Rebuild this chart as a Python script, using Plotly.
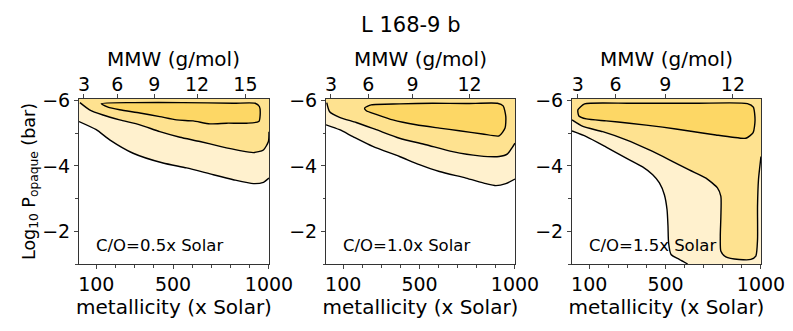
import plotly.graph_objects as go

# axis limits
metal_range = [10, 1000]
logp_range = [-1.0, -6.05]

# colours of the three filled levels (outer -> inner)
fill_colors = ['#FFF1CE', '#FEE290', '#FDD765']

# C/O = 0.5x Solar : contour boundaries (metallicity, log10 P)
co05_outer_metal = [10, 100, 170, 292, 448, 571, 710, 814, 919, 971, 1000]
co05_outer_logp = [-5.36, -5.11, -4.80, -4.39, -4.09, -3.94, -3.73, -3.58, -3.46, -3.50, -3.63]
co05_mid_metal = [15, 65, 135, 222, 327, 431, 536, 640, 745, 849, 919, 971, 997, 1000]
co05_mid_logp = [-5.94, -5.72, -5.56, -5.41, -5.26, -5.05, -4.88, -4.75, -4.60, -4.47, -4.41, -4.49, -4.75, -5.05]
co05_in_metal = [126, 292, 553, 814, 928, 950, 954, 947, 884, 780, 692, 605, 518, 431, 327, 222, 161, 126]
co05_in_logp = [-5.91, -5.94, -5.94, -5.92, -5.92, -5.82, -5.56, -5.36, -5.31, -5.31, -5.29, -5.38, -5.41, -5.51, -5.62, -5.72, -5.80, -5.91]

# C/O = 1.0x Solar
co10_outer_metal = [10, 81, 151, 255, 395, 499, 604, 743, 848, 900, 952, 1000]
co10_outer_logp = [-5.26, -5.11, -4.90, -4.60, -4.29, -4.04, -3.83, -3.63, -3.46, -3.40, -3.46, -3.60]
co10_mid_metal = [14, 29, 81, 168, 273, 395, 534, 673, 813, 917, 961, 987, 1000]
co10_mid_logp = [-5.94, -5.66, -5.49, -5.33, -5.11, -4.85, -4.65, -4.44, -4.31, -4.29, -4.37, -4.58, -4.70]
co10_in_metal = [212, 247, 395, 569, 743, 908, 938, 952, 948, 917, 830, 708, 604, 482, 360, 273, 221, 212]
co10_in_logp = [-5.77, -5.87, -5.90, -5.92, -5.91, -5.92, -5.84, -5.51, -5.16, -4.92, -4.98, -5.08, -5.16, -5.26, -5.41, -5.58, -5.69, -5.77]

# C/O = 1.5x Solar
co15_outer_metal = [10, 85, 189, 294, 380, 433, 468, 494, 508, 513, 516, 529, 572, 616]
co15_outer_logp = [-5.07, -4.90, -4.58, -4.24, -3.97, -3.73, -3.48, -3.12, -2.66, -2.15, -1.65, -1.29, -1.14, -1.0]
co15_mid_metal = [10, 67, 171, 294, 415, 520, 624, 712, 772, 790, 790, 787, 790, 816, 886, 947, 973, 982, 982, 987, 994, 1000]
co15_mid_logp = [-5.41, -5.21, -5.05, -4.80, -4.49, -4.19, -3.88, -3.63, -3.33, -3.07, -2.46, -1.85, -1.39, -1.22, -1.14, -1.14, -1.24, -1.75, -2.76, -3.58, -3.98, -4.29]
co15_in_metal = [41, 76, 311, 659, 929, 960, 969, 959, 921, 851, 764, 624, 485, 311, 189, 85, 46, 41]
co15_in_logp = [-5.72, -5.90, -5.92, -5.92, -5.91, -5.80, -5.41, -5.02, -4.85, -4.88, -4.95, -5.07, -5.19, -5.31, -5.38, -5.44, -5.53, -5.72]

# MMW top-axis ticks, placed at the metallicity where each MMW is reached
mmw_labels_05 = [3, 6, 9, 12, 15]
mmw_metal_05 = [36, 210, 403, 625, 877]
mmw_labels_10 = [3, 6, 9, 12]
mmw_metal_10 = [36, 231, 463, 762]
mmw_labels_15 = [3, 6, 9, 12]
mmw_metal_15 = [40, 238, 499, 853]

panels = [
    ('C/O=0.5x Solar', co05_outer_metal, co05_outer_logp, co05_mid_metal, co05_mid_logp,
     co05_in_metal, co05_in_logp, mmw_labels_05, mmw_metal_05),
    ('C/O=1.0x Solar', co10_outer_metal, co10_outer_logp, co10_mid_metal, co10_mid_logp,
     co10_in_metal, co10_in_logp, mmw_labels_10, mmw_metal_10),
    ('C/O=1.5x Solar', co15_outer_metal, co15_outer_logp, co15_mid_metal, co15_mid_logp,
     co15_in_metal, co15_in_logp, mmw_labels_15, mmw_metal_15),
]

x_domains = [[0.0996, 0.3392], [0.4111, 0.6494], [0.7213, 0.9596]]
y_domain = [0.2024, 0.7009]

FONT = 'DejaVu Sans'
TICK = dict(size=19, color='black', family=FONT)
LABEL = dict(size=20, color='black', family=FONT)
x_lo, x_hi = metal_range
y_bot, y_top = logp_range
pad_x = 200
pad_y = 0.5


def open_region(xs, ys):
    # region above (lower pressure than) a contour that runs from the left edge
    # to the right or bottom edge of the axes
    px = list(xs)
    py = list(ys)
    if py[-1] >= y_bot - 1e-6:
        px += [px[-1], x_hi + pad_x]
        py += [y_bot + pad_y, y_bot + pad_y]
    else:
        px += [x_hi + pad_x]
        py += [py[-1]]
    px += [x_hi + pad_x, x_lo - pad_x, x_lo - pad_x]
    py += [y_top - pad_y, y_top - pad_y, py[0]]
    return px, py


fig = go.Figure()

for i, (label, om, op, mm, mp, im, ip, mmw_lab, mmw_pos) in enumerate(panels):
    xa = 'x' if i == 0 else f'x{2 * i + 1}'
    ya = 'y' if i == 0 else f'y{i + 1}'

    fx, fy = open_region(om, op)
    fig.add_trace(go.Scatter(x=fx, y=fy, fill='toself', fillcolor=fill_colors[0],
                             mode='lines', line=dict(width=0, shape='spline', smoothing=0.6),
                             hoverinfo='skip', xaxis=xa, yaxis=ya))
    fx, fy = open_region(mm, mp)
    fig.add_trace(go.Scatter(x=fx, y=fy, fill='toself', fillcolor=fill_colors[1],
                             mode='lines', line=dict(width=0, shape='spline', smoothing=0.6),
                             hoverinfo='skip', xaxis=xa, yaxis=ya))
    fig.add_trace(go.Scatter(x=im, y=ip, fill='toself', fillcolor=fill_colors[2],
                             mode='lines', line=dict(width=0, shape='spline', smoothing=0.6),
                             hoverinfo='skip', xaxis=xa, yaxis=ya))
    for cx, cy in [(om, op), (mm, mp), (im, ip)]:
        fig.add_trace(go.Scatter(x=cx, y=cy, mode='lines',
                                 line=dict(color='black', width=1.4, shape='spline', smoothing=0.6),
                                 hoverinfo='skip', xaxis=xa, yaxis=ya))

    # top MMW axis (invisible anchor trace)
    xt = f'x{2 * i + 2}'
    fig.add_trace(go.Scatter(x=[x_lo], y=[y_top], mode='markers', marker=dict(opacity=0),
                             hoverinfo='skip', xaxis=xt, yaxis=ya))

    xkey = 'xaxis' if i == 0 else f'xaxis{2 * i + 1}'
    ykey = 'yaxis' if i == 0 else f'yaxis{i + 1}'
    tkey = f'xaxis{2 * i + 2}'

    fig.layout[xkey] = dict(
        domain=x_domains[i], anchor=ya, range=metal_range, automargin=False,
        tickvals=[100, 500, 1000], ticks='outside', ticklen=4, tickwidth=1,
        ticklabelstandoff=-1, tickfont=TICK,
        minor=dict(tickvals=[200, 300, 400, 600, 700, 800, 900], ticks='outside',
                   ticklen=2.5, tickcolor='#444'),
        showline=True, linecolor='#333', linewidth=1, mirror=True,
        showgrid=False, zeroline=False,
        title=dict(text='metallicity (x Solar)', font=LABEL, standoff=4),
    )
    fig.layout[tkey] = dict(
        domain=x_domains[i], anchor=ya, overlaying=xa, side='top', range=metal_range,
        automargin=False,
        tickvals=mmw_pos, ticktext=[str(v) for v in mmw_lab],
        ticks='outside', ticklen=4, tickwidth=1, ticklabelstandoff=-5,
        tickfont=TICK,
        showgrid=False, zeroline=False, showline=False,
    )
    fig.layout[ykey] = dict(
        domain=y_domain, anchor=xa, range=logp_range, automargin=False,
        tickvals=[-6, -4, -2], ticks='outside', ticklen=4, tickwidth=1,
        tickfont=TICK,
        minor=dict(tickvals=[-5, -3, -1], ticks='outside', ticklen=2.5, tickcolor='#444'),
        showline=True, linecolor='#333', linewidth=1, mirror=True,
        showgrid=False, zeroline=False,
    )
    fig.add_annotation(text='MMW (g/mol)', xref=f'{xa} domain', yref='paper',
                       x=0.5, y=0.822, xanchor='center', yanchor='middle', showarrow=False,
                       font=LABEL)
    fig.add_annotation(text=label, xref=f'{xa} domain', yref=f'{ya} domain',
                       x=0.08, y=0.115, xanchor='left', yanchor='middle', showarrow=False,
                       font=dict(size=16.5, color='black', family=FONT))

fig.layout['yaxis']['title'] = dict(
    text='Log<sub>10</sub> P<sub>opaque</sub> (bar)',
    font=dict(size=17.5, color='black', family=FONT), standoff=2)

fig.update_layout(
    width=793, height=331,
    margin=dict(l=0, r=0, t=0, b=0),
    paper_bgcolor='white', plot_bgcolor='white',
    showlegend=False,
    title=dict(text='L 168-9 b', x=0.518, xanchor='center', y=0.925, yanchor='middle',
               font=dict(size=21, color='black', family=FONT)),
)

fig.write_html('out.html', config={'displayModeBar': False},
               post_script="document.body.style.margin='0';")
